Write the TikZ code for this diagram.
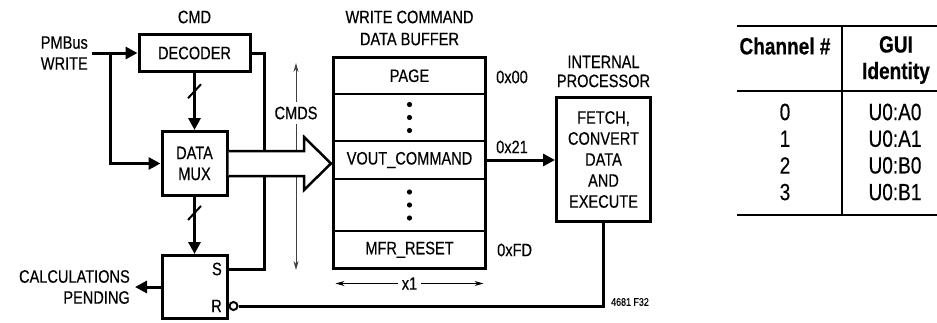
\documentclass[tikz,border=0pt]{standalone}
\usepackage{fontspec}
\setmainfont{Liberation Sans}[FakeStretch=0.81, FakeBold=0.4]
\usetikzlibrary{arrows.meta, calc}

\begin{document}
\begin{tikzpicture}[
		x=1pt, y=-1pt,
		font=\fontsize{18}{21}\selectfont,
		blk/.style={draw, line width=3pt, inner sep=0pt, align=center},
		cell/.style={draw, line width=1.2pt, outer sep=0pt, inner sep=0pt, minimum width=152pt},
		lbl/.style={inner sep=0pt, align=center},
		wire/.style={line width=3pt},
		sig/.style={line width=3pt, -{Triangle[length=12pt, width=12pt]}},
		dim/.style={line width=1pt, {Stealth[length=9pt, width=5pt]}-{Stealth[length=9pt, width=5pt]}},
		slash/.style={line width=2pt},
		rule/.style={line width=1.3pt},
		tab/.style={inner sep=0pt, font=\fontsize{23.5}{26.5}\selectfont},
		tabh/.style={inner sep=0pt, align=center, font=\fontsize{23.5}{26.5}\selectfont\bfseries}
	]
	\useasboundingbox (0,0) rectangle (937,322);

	% blocks
	\node[blk, minimum width=111pt, minimum height=37pt] (dec) at (194.5,53) {DECODER};
	\node[blk, minimum width=65pt, minimum height=64pt] (mux) at (194.5,163.5) {DATA\\MUX};
	\node[blk, minimum width=65pt, minimum height=63pt] (latch) at (194.5,287) {};
	\node[blk, minimum width=94pt, minimum height=124pt] (proc) at (603.5,159.5) {FETCH,\\CONVERT\\DATA\\AND\\EXECUTE};
	\node[draw, circle, line width=2pt, minimum size=8pt, inner sep=0pt] (bub) at (233.5,306) {};

	% buffer
	\node[cell, minimum height=36.5pt] (page) at (409.5,75.75) {PAGE};
	\node[cell, minimum height=47pt] (dotsA) at (409.5,117.5) {};
	\node[cell, minimum height=38pt] (vout) at (409.5,160) {VOUT\_COMMAND};
	\node[cell, minimum height=52pt] (dotsB) at (409.5,205) {};
	\node[cell, minimum height=37.5pt] (mfr) at (409.5,249.75) {MFR\_RESET};
	\draw[wire] (page.north west) rectangle (mfr.south east);
	\foreach \n in {dotsA, dotsB}
		\foreach \d in {-13,0,13}
			\fill ($(\n.center)+(0,\d)$) circle (2.6);

	% labels
	\node[lbl] (cmd) at (194.5,17) {CMD};
	\node[lbl, anchor=east, align=right, inner xsep=4pt] (pmw) at (92,53) {PMBus\\WRITE};
	\node[lbl, anchor=east, align=right, inner xsep=5pt] (calc) at (135,287) {CALCULATIONS\\PENDING};
	\node[lbl, anchor=east] (s) at (222,269) {S};
	\node[lbl, anchor=east] (r) at (222,306) {R};
	\node[lbl, font=\fontsize{18}{22}\selectfont] (wcdb) at (409.5,28) {WRITE COMMAND\\DATA BUFFER};
	\node[lbl, font=\fontsize{18}{19}\selectfont] (ip) at (603.5,71.5) {INTERNAL\\PROCESSOR};
	\node[lbl, anchor=west] (h00) at (496,77) {0x00};
	\node[lbl, anchor=west] (h21) at (496,147) {0x21};
	\node[lbl, anchor=west] (hfd) at (497,250) {0xFD};
	\node[lbl, font=\fontsize{11}{12}\selectfont] (fig) at (630,302) {4681 F32};

	% wires
	\coordinate (br) at (110,53);
	\draw[sig] (pmw.east) -- (dec.west);
	\draw[sig] (br) |- (mux.west);
	\draw[sig] (dec.south) -- (mux.north);
	\draw[sig] (mux.south) -- (latch.north);
	\draw[slash] ($(dec.south)!0.32!(mux.north)$) +(-6.5,7) -- +(6.5,-7);
	\draw[slash] ($(mux.south)!0.28!(latch.north)$) +(-6.5,7) -- +(6.5,-7);
	\draw[wire] (dec.east) -- ++(13,0) |- (latch.east |- s);
	\draw[wire] (proc.south) |- (bub.east);
	\draw[sig] (latch.west) -- (calc.east);
	\draw[sig] (vout.east) -- (proc.west |- vout.east);

	% cmds bus
	\coordinate (cmdsT) at (296,63);
	\coordinate (cmdsB) at (296,270);
	\draw[dim, black!75] (cmdsT) -- (cmdsB);
	\node[lbl, fill=white, inner ysep=5pt] (cmds) at (296,113) {CMDS};
	\coordinate (tip) at (331,163.5);
	\draw[line width=2.5pt, fill=white] ($(mux.east)+(0,-12.5)$) -- ($(tip)+(-27,-12.5)$) -- ($(tip)+(-27,-26.5)$)
		-- (tip) -- ($(tip)+(-27,26.5)$) -- ($(tip)+(-27,12.5)$) -- ($(mux.east)+(0,12.5)$);

	\draw[dim, line width=0.9pt] ($(mfr.south west)+(2,15)$) -- ($(mfr.south east)+(-2,15)$)
		node[midway, lbl, fill=white, inner xsep=4pt] (xone) {x1};

	% table
	\draw[rule] (737,26) -- (937,26);
	\draw[rule] (737,91) -- (937,91);
	\draw[rule] (737,215) -- (937,215);
	\draw[rule] (842,26) -- (842,215);
	\node[tabh] (hch) at (785,46) {Channel \#};
	\node[tabh] (hgui) at (896,60) {GUI\\Identity};
	\foreach \c/\g [count=\i from 0] in {0/U0:A0, 1/U0:A1, 2/U0:B0, 3/U0:B1} {
		\node[tab] (ch\i) at (785,112+26.7*\i) {\c};
		\node[tab] (gui\i) at (895,112+26.7*\i) {\g};
	}
\end{tikzpicture}
\end{document}
